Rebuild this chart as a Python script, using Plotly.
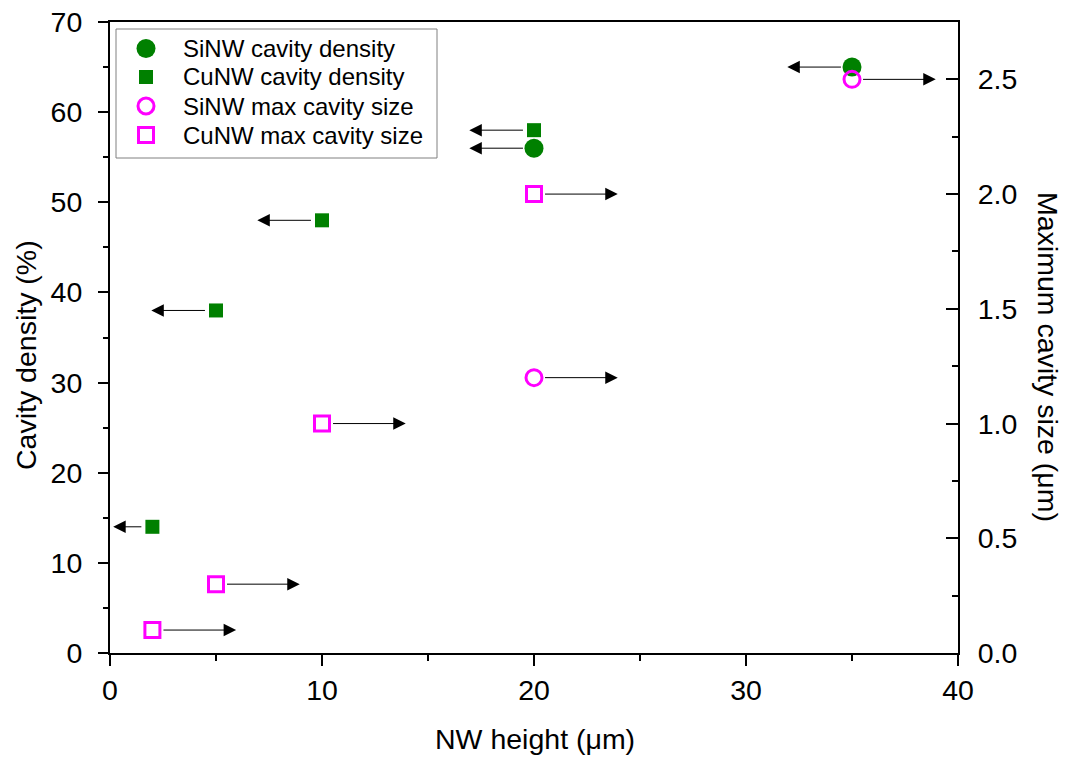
import plotly.graph_objects as go

# ---- data ----
si_density_x = [20, 35]
si_density_y = [56, 65]
cu_density_x = [2, 5, 10, 20]
cu_density_y = [14, 38, 48, 58]
si_size_x = [20, 35]
si_size_y = [1.2, 2.5]
cu_size_x = [2, 5, 10, 20]
cu_size_y = [0.1, 0.3, 1.0, 2.0]

x_ticks = [0, 10, 20, 30, 40]
y_ticks = [0, 10, 20, 30, 40, 50, 60, 70]
y2_ticks = [0.0, 0.5, 1.0, 1.5, 2.0, 2.5]

legend_labels = ["SiNW cavity density", "CuNW cavity density",
                 "SiNW max cavity size", "CuNW max cavity size"]

FONT = "Liberation Sans, Arial, sans-serif"
GREEN = "#008000"
MAGENTA = "#FF00FF"
BIG = 28.5

# plot-area pixel geometry (for positioning the legend / titles)
L, R, T, B = 110, 958, 22, 653
W_PX, H_PX = R - L, B - T


def px_x(p):
    return (p - L) / W_PX


def px_y(p):
    return (B - p) / H_PX


fig = go.Figure()
fig.add_trace(go.Scatter(x=si_density_x, y=si_density_y, mode="markers",
                         name=legend_labels[0],
                         marker=dict(symbol="circle", size=19, color=GREEN)))
fig.add_trace(go.Scatter(x=cu_density_x, y=cu_density_y, mode="markers",
                         name=legend_labels[1],
                         marker=dict(symbol="square", size=14, color=GREEN)))
fig.add_trace(go.Scatter(x=si_size_x, y=si_size_y, mode="markers", yaxis="y2",
                         name=legend_labels[2],
                         marker=dict(symbol="circle-open", size=16, color=MAGENTA,
                                     line=dict(width=3, color=MAGENTA))))
fig.add_trace(go.Scatter(x=cu_size_x, y=cu_size_y, mode="markers", yaxis="y2",
                         name=legend_labels[3],
                         marker=dict(symbol="square-open", size=15, color=MAGENTA,
                                     line=dict(width=3, color=MAGENTA))))

annotations = []
arrow_style = dict(text="", showarrow=True, arrowhead=2, arrowsize=2.5,
                   arrowwidth=1, arrowcolor="black")
# arrows pointing left (to left axis) for density points
for xs, ys in [(si_density_x, si_density_y), (cu_density_x, cu_density_y)]:
    for x, y in zip(xs, ys):
        tail = x - 0.45
        head = max(tail - 2.6, 0.15)
        annotations.append(dict(x=head, y=y, ax=tail, ay=y, xref="x", yref="y",
                                axref="x", ayref="y", **arrow_style))
# arrows pointing right (to right axis) for size points
for xs, ys in [(si_size_x, si_size_y), (cu_size_x, cu_size_y)]:
    for x, y in zip(xs, ys):
        tail = x + 0.45
        head = tail + 3.5
        annotations.append(dict(x=head, y=y, ax=tail, ay=y, xref="x", yref="y2",
                                axref="x", ayref="y2", **arrow_style))

# axis titles
title_font = dict(family=FONT, size=BIG, color="black")
annotations.append(dict(text="Cavity density (%)", xref="paper", yref="paper",
                        x=px_x(26), y=px_y(355), showarrow=False, textangle=-90,
                        font=title_font, xanchor="center", yanchor="middle"))
annotations.append(dict(text="Maximum cavity size (μm)", xref="paper", yref="paper",
                        x=px_x(1048), y=px_y(357), showarrow=False, textangle=90,
                        font=title_font, xanchor="center", yanchor="middle"))
annotations.append(dict(text="NW height (μm)", xref="paper", yref="paper",
                        x=px_x(535), y=px_y(739), showarrow=False,
                        font=title_font, xanchor="center", yanchor="middle"))

# ---- legend (drawn manually for exact spacing) ----
shapes = [dict(type="rect", xref="paper", yref="paper",
               x0=px_x(116), x1=px_x(437), y0=px_y(158), y1=px_y(29),
               line=dict(color="#808080", width=1), fillcolor="white", layer="above")]
row_y = [48.5, 77, 106, 135]
sym_x = px_x(146)
legend_syms = [
    dict(type="circle", r=9.5, fill=GREEN, line=dict(width=0)),
    dict(type="rect", r=7, fill=GREEN, line=dict(width=0)),
    dict(type="circle", r=8, fill="white", line=dict(color=MAGENTA, width=3)),
    dict(type="rect", r=7.5, fill="white", line=dict(color=MAGENTA, width=3)),
]
for ry, sym, lab in zip(row_y, legend_syms, legend_labels):
    shapes.append(dict(type=sym["type"], xref="paper", yref="paper",
                       xsizemode="pixel", ysizemode="pixel",
                       xanchor=sym_x, yanchor=px_y(ry),
                       x0=-sym["r"], x1=sym["r"], y0=-sym["r"], y1=sym["r"],
                       fillcolor=sym["fill"], line=sym["line"], layer="above"))
    annotations.append(dict(text=lab, xref="paper", yref="paper",
                            x=px_x(181), y=px_y(ry), showarrow=False,
                            xanchor="left", yanchor="middle",
                            font=dict(family=FONT, size=24, color="black")))

axis_common = dict(showline=True, linecolor="black", linewidth=2,
                   showgrid=False, zeroline=False, automargin=False,
                   tickcolor="black", tickwidth=2,
                   tickfont=dict(family=FONT, size=BIG, color="black"))

fig.update_layout(
    width=1067, height=760,
    margin=dict(l=L, r=1067 - R, t=T, b=760 - B, autoexpand=False),
    paper_bgcolor="white", plot_bgcolor="white",
    font=dict(family=FONT, color="black"),
    showlegend=False,
    xaxis=dict(range=[0, 40], tickvals=x_ticks, ticks="outside", ticklen=11,
               mirror=True,
               minor=dict(dtick=5, ticks="outside", ticklen=6, tickcolor="black",
                          tickwidth=2),
               **axis_common),
    yaxis=dict(range=[0, 70], tickvals=y_ticks, ticks="outside", ticklen=10,
               ticklabelstandoff=10,
               minor=dict(dtick=5, ticks="outside", ticklen=5, tickcolor="black",
                          tickwidth=2),
               **axis_common),
    yaxis2=dict(range=[0, 2.75], tickvals=y2_ticks, tickformat=".1f",
                overlaying="y", side="right", ticks="inside", ticklen=12,
                ticklabelstandoff=12,
                minor=dict(dtick=0.25, ticks="inside", ticklen=6, tickcolor="black",
                           tickwidth=2),
                **axis_common),
    shapes=shapes,
    annotations=annotations,
)

fig.write_html("out.html")
